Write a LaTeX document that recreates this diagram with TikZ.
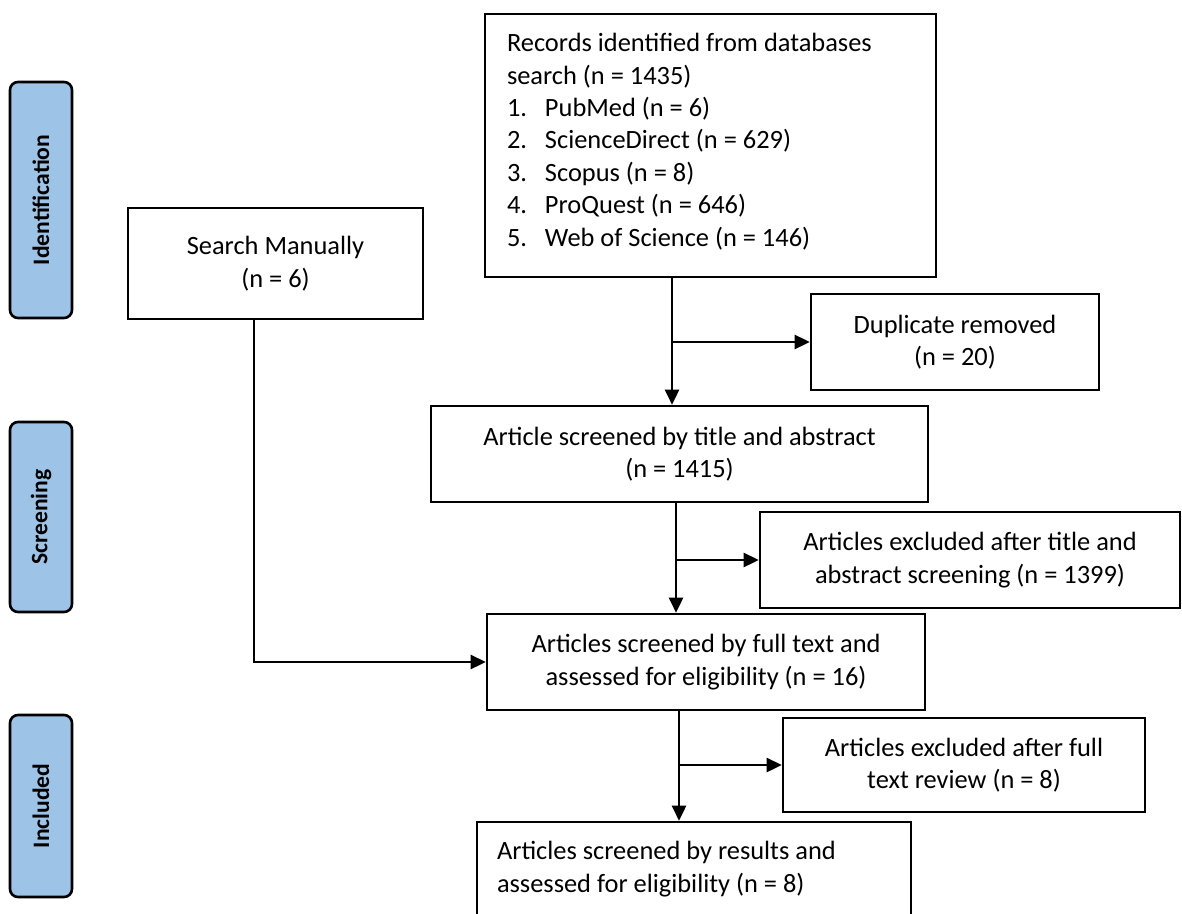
\documentclass[tikz,border=0pt]{standalone}
\usepackage{fontspec}
\setmainfont{Carlito}
\usetikzlibrary{arrows.meta}
\definecolor{phaseblue}{RGB}{157,195,230}

\begin{document}
\begin{tikzpicture}[x=0.5pt,y=-0.5pt]
\tikzstyle{every node}=[font=\fontsize{13.2}{16.2}\selectfont, line width=1.3pt, inner sep=0pt, align=center];
\tikzstyle{box}=[draw, minimum height=48pt];
\tikzstyle{phase}=[draw, fill=phaseblue, rounded corners=4pt, rotate=90, minimum height=31pt, font=\fontsize{11.8}{14}\selectfont\bfseries];
\tikzstyle{arr}=[line width=1.3pt, -{Triangle[length=7.5pt,width=7pt]}];

\useasboundingbox (0,0) rectangle (1182,914);

\draw (41,200) node[phase, minimum width=118pt] (idn) {Identification};
\draw (41,517) node[phase, minimum width=95pt] (scn) {Screening};
\draw (41,806) node[phase, minimum width=91pt] (inc) {Included};

\draw (710.5,145.5) node[box, minimum width=225.5pt, minimum height=131.5pt, text width=203.5pt, align=flush left] (rec)
  {Records identified from databases\\
   search (n = 1435)\\
   \makebox[19pt][l]{1.}PubMed (n = 6)\\
   \makebox[19pt][l]{2.}ScienceDirect (n = 629)\\
   \makebox[19pt][l]{3.}Scopus (n = 8)\\
   \makebox[19pt][l]{4.}ProQuest (n = 646)\\
   \makebox[19pt][l]{5.}Web of Science (n = 146)\\[-10.5pt]\mbox{}};
\draw (275.5,263.5) node[box, minimum width=147.5pt, minimum height=55.5pt] (sm) {Search Manually\\(n = 6)};
\draw (955,342) node[box, minimum width=144pt] (dup) {Duplicate removed\\(n = 20)};
\draw (679.5,454) node[box, minimum width=248.5pt] (scr) {Article screened by title and abstract\\(n = 1415)};
\draw (970,560) node[box, minimum width=210pt] (ex1) {Articles excluded after title and\\abstract screening (n = 1399)};
\draw (706,662) node[box, minimum width=219pt] (ft) {Articles screened by full text and\\assessed for eligibility (n = 16)};
\draw (964,765) node[box, minimum width=181pt, minimum height=47pt] (ex2) {Articles excluded after full\\text review (n = 8)};
\draw (694,869) node[box, minimum width=217pt, minimum height=47pt, text width=197pt, align=flush left] (fin)
  {Articles screened by results and\\assessed for eligibility (n = 8)};

\coordinate (c0) at (254,0);
\coordinate (c1) at (672,0);
\coordinate (c2) at (676,0);
\coordinate (c3) at (679,0);

\draw[arr] (rec.south -| c1) -- (scr.north -| c1);
\draw[arr] (c1 |- dup.west) -- (dup.west);
\draw[arr] (scr.south -| c2) -- (ft.north -| c2);
\draw[arr] (c2 |- ex1.west) -- (ex1.west);
\draw[arr] (sm.south -| c0) |- (ft.west);
\draw[arr] (ft.south -| c3) -- (fin.north -| c3);
\draw[arr] (c3 |- ex2.west) -- (ex2.west);

\end{tikzpicture}
\end{document}
